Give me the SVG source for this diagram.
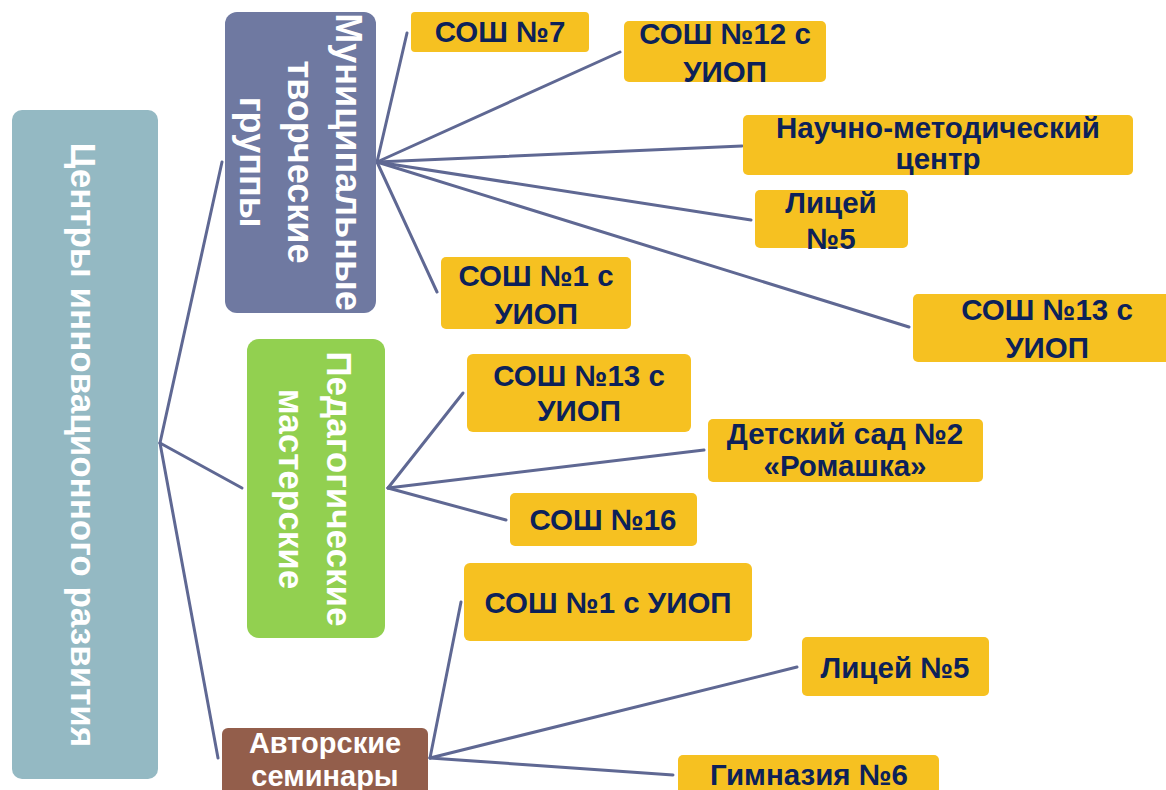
<svg xmlns="http://www.w3.org/2000/svg" width="1166" height="790" viewBox="0 0 1166 790">
<style>
.conn line{stroke:#5F6893;stroke-width:3;stroke-linecap:round;fill:none}
.leaf rect{fill:#F6C121}
.leaf text{font-family:"Liberation Sans",Arial,sans-serif;font-weight:bold;font-size:29.5px;fill:#0C2159;text-anchor:middle}
.vt{font-family:"Liberation Sans",Arial,sans-serif;font-weight:bold;fill:#FFFFFF;text-anchor:middle}
</style>
<rect width="1166" height="790" fill="#FFFFFF"/>
<g id="connectors" class="conn">
<line x1="160" y1="443" x2="222" y2="162"/>
<line x1="160" y1="443" x2="242" y2="488"/>
<line x1="160" y1="443" x2="218" y2="758"/>
<line x1="377" y1="162" x2="407" y2="33"/>
<line x1="377" y1="162" x2="620" y2="52"/>
<line x1="377" y1="162" x2="742" y2="146"/>
<line x1="377" y1="162" x2="751" y2="220"/>
<line x1="377" y1="162" x2="437" y2="292"/>
<line x1="377" y1="162" x2="909" y2="327"/>
<line x1="388" y1="488" x2="463" y2="393"/>
<line x1="388" y1="488" x2="704" y2="450"/>
<line x1="388" y1="488" x2="506" y2="520"/>
<line x1="430" y1="758" x2="461" y2="602"/>
<line x1="430" y1="758" x2="797" y2="667"/>
<line x1="430" y1="758" x2="673" y2="775"/>
</g>
<g id="root">
<rect x="12" y="110" width="146" height="669" rx="10" fill="#94B9C3"/>
<text class="vt" font-size="35" transform="translate(71,445) rotate(90)">Центры инновационного развития</text>
</g>
<g id="municipal">
<rect x="225" y="12" width="151" height="301" rx="12" fill="#6F79A1"/>
<text class="vt" font-size="36" transform="translate(336,162) rotate(90)">Муниципальные</text>
<text class="vt" font-size="36" transform="translate(288,162) rotate(90)">творческие</text>
<text class="vt" font-size="36" transform="translate(240,162) rotate(90)">группы</text>
</g>
<g id="pedagog">
<rect x="247" y="339" width="138" height="299" rx="12" fill="#92D050"/>
<text class="vt" font-size="35" transform="translate(327,489) rotate(90)">Педагогические</text>
<text class="vt" font-size="35" transform="translate(279,489) rotate(90)">мастерские</text>
</g>
<g id="seminars">
<rect x="222" y="728" width="206" height="72" rx="6" fill="#935E4B"/>
<text class="vt" font-size="29" x="325" y="753">Авторские</text>
<text class="vt" font-size="29" x="325" y="786">семинары</text>
</g>
<g id="n1" class="leaf"><rect x="411" y="12" width="178" height="40" rx="4"/><text x="500" y="42">СОШ №7</text></g>
<g id="n2" class="leaf"><rect x="624" y="21" width="202" height="61" rx="5"/><text x="725" y="44">СОШ №12 с</text><text x="725" y="82">УИОП</text></g>
<g id="n3" class="leaf"><rect x="743" y="115" width="390" height="60" rx="5"/><text x="938" y="138">Научно-методический</text><text x="938" y="169">центр</text></g>
<g id="n4" class="leaf"><rect x="755" y="190" width="153" height="58" rx="5"/><text x="831" y="213">Лицей</text><text x="831" y="249">№5</text></g>
<g id="n5" class="leaf"><rect x="441" y="257" width="190" height="72" rx="5"/><text x="536" y="286">СОШ №1 с</text><text x="536" y="324">УИОП</text></g>
<g id="n6" class="leaf"><rect x="913" y="294" width="268" height="68" rx="5"/><text x="1047" y="320">СОШ №13 с</text><text x="1047" y="358">УИОП</text></g>
<g id="n7" class="leaf"><rect x="467" y="354" width="224" height="78" rx="6"/><text x="579" y="386">СОШ №13 с</text><text x="579" y="421">УИОП</text></g>
<g id="n8" class="leaf"><rect x="708" y="419" width="275" height="63" rx="5"/><text x="845" y="444">Детский сад №2</text><text x="845" y="476">«Ромашка»</text></g>
<g id="n9" class="leaf"><rect x="510" y="493" width="187" height="53" rx="5"/><text x="603" y="530">СОШ №16</text></g>
<g id="n10" class="leaf"><rect x="464" y="563" width="288" height="78" rx="6"/><text x="608" y="613">СОШ №1 с УИОП</text></g>
<g id="n11" class="leaf"><rect x="802" y="637" width="187" height="59" rx="5"/><text x="895" y="678">Лицей №5</text></g>
<g id="n12" class="leaf"><rect x="678" y="755" width="261" height="45" rx="5"/><text x="809" y="785">Гимназия №6</text></g>
</svg>
